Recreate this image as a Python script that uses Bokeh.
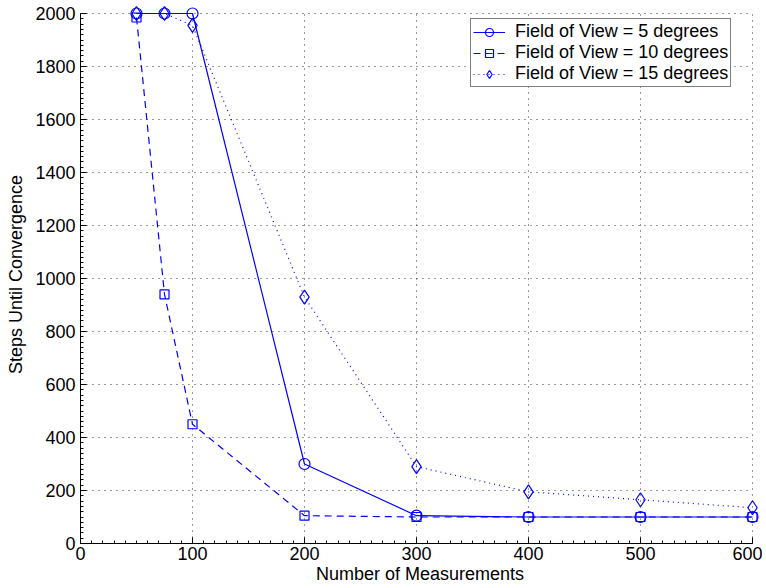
from bokeh.plotting import figure
from bokeh.models import Legend, LegendItem, FixedTicker, Range1d
from bokeh.embed import file_html
from bokeh.resources import INLINE

x = [50, 75, 100, 200, 300, 400, 500, 600]
fov5 = [2000, 2000, 2000, 300, 105, 100, 100, 100]
fov10 = [1985, 940, 450, 105, 100, 100, 100, 100]
fov15 = [2000, 2000, 1955, 930, 290, 195, 165, 135]
labels = ["Field of View = 5 degrees", "Field of View = 10 degrees", "Field of View = 15 degrees"]
xticks = [0, 100, 200, 300, 400, 500, 600]
yticks = [0, 200, 400, 600, 800, 1000, 1200, 1400, 1600, 1800, 2000]
xminor = list(range(0, 601, 10))
yminor = list(range(0, 2001, 20))

FONT = "Liberation Sans"
BLUE = "#0000ff"

xmin, xmax = xticks[0], xticks[-1]
ymin, ymax = yticks[0], yticks[-1]

# ranges are a bit wider than the axes so that markers on the edges are not clipped
p = figure(width=762, height=586, output_backend="svg", toolbar_location=None,
           x_range=Range1d(xmin, xmax + 6.25), y_range=Range1d(ymin, ymax + 30.2),
           min_border_left=80, min_border_right=3, min_border_top=5, min_border_bottom=43)
p.outline_line_color = None
p.background_fill_color = "white"
p.border_fill_color = "white"
p.xgrid.visible = False
p.ygrid.visible = False

for ax in (p.xaxis[0], p.yaxis[0]):
    ax.major_tick_in = 6
    ax.major_tick_out = 0
    ax.minor_tick_in = 3
    ax.minor_tick_out = 0
    ax.axis_line_color = "black"
    ax.major_tick_line_color = "black"
    ax.minor_tick_line_color = "black"
    ax.major_label_text_font = FONT
    ax.major_label_text_font_size = "18px"
    ax.major_label_text_color = "black"
    ax.axis_label_text_font = FONT
    ax.axis_label_text_font_size = "18px"
    ax.axis_label_text_font_style = "normal"
    ax.axis_label_text_color = "black"
p.xaxis[0].ticker = FixedTicker(ticks=xticks, minor_ticks=xminor)
p.yaxis[0].ticker = FixedTicker(ticks=yticks, minor_ticks=yminor)
p.xaxis[0].bounds = (xmin, xmax)
p.yaxis[0].bounds = (ymin, ymax)
p.xaxis[0].axis_label = "Number of Measurements"
p.yaxis[0].axis_label = "Steps Until Convergence"
p.xaxis[0].axis_label_standoff = 1
p.yaxis[0].axis_label_standoff = 6
p.xaxis[0].major_label_standoff = 3
p.yaxis[0].major_label_standoff = 5

# dotted grid limited to the axes box
grid_style = dict(line_color="black", line_alpha=0.8, line_dash="1 5", line_width=1)
p.segment(x0=xticks, y0=[ymin] * len(xticks), x1=xticks, y1=[ymax] * len(xticks), **grid_style)
p.segment(x0=[xmin] * len(yticks), y0=yticks, x1=[xmax] * len(yticks), y1=yticks, **grid_style)

l1 = p.line(x, fov5, color=BLUE, line_width=1.2)
s1 = p.scatter(x, fov5, marker="circle", size=11, fill_color=None, line_color=BLUE, line_width=1.2)
l2 = p.line(x, fov10, color=BLUE, line_width=1.2, line_dash="7 5")
s2 = p.scatter(x, fov10, marker="square", size=9, fill_color=None, line_color=BLUE, line_width=1.2)
l3 = p.line(x, fov15, color=BLUE, line_width=1.2, line_dash="1 4")
s3 = p.scatter(x, fov15, marker="diamond", size=14, fill_color=None, line_color=BLUE, line_width=1.2)

legend = Legend(items=[LegendItem(label=labels[0], renderers=[l1, s1]),
                       LegendItem(label=labels[1], renderers=[l2, s2]),
                       LegendItem(label=labels[2], renderers=[l3, s3])],
                margin=0, padding=2, spacing=0,
                label_text_font=FONT, label_text_font_size="18px", label_text_color="black",
                label_height=20, glyph_height=20, glyph_width=32, label_standoff=10,
                border_line_color="black", border_line_width=1,
                background_fill_alpha=1.0)
legend.location = (390, 456)
p.add_layout(legend)

open("out.html", "w").write(file_html(p, INLINE))
